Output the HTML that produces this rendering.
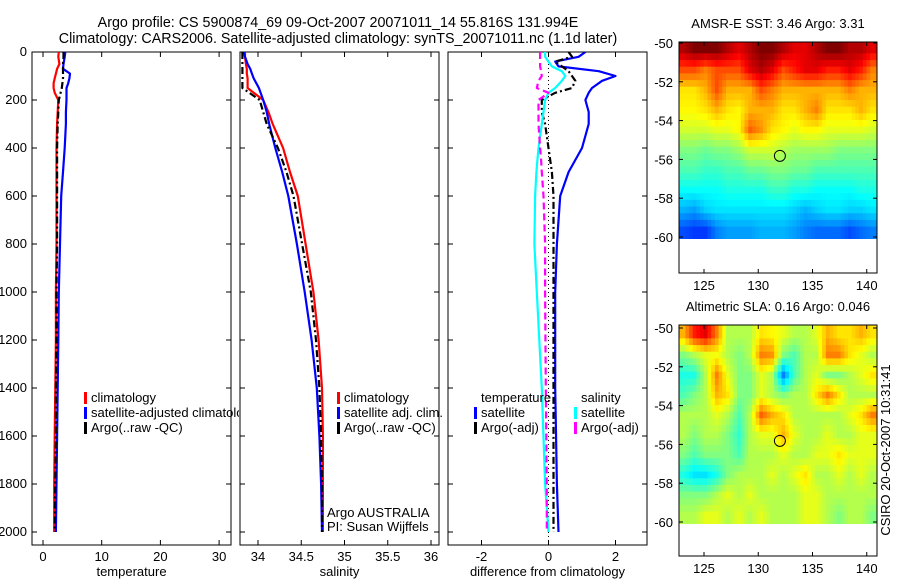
<!DOCTYPE html>
<html><head><meta charset="utf-8"><style>
html,body{margin:0;padding:0;background:#fff}
svg{display:block;font-family:"Liberation Sans",Arial,sans-serif;font-size:13px}
</style></head><body>
<svg id="fig" width="900" height="580" viewBox="0 0 900 580">
<defs>
<clipPath id="c1"><rect x="32" y="52" width="199" height="493"/></clipPath>
<clipPath id="c2"><rect x="240" y="52" width="199" height="493"/></clipPath>
<clipPath id="c3"><rect x="448" y="52" width="199" height="493"/></clipPath>
<clipPath id="leg1"><rect x="0" y="380" width="239" height="60"/></clipPath>
<clipPath id="m1"><rect x="679" y="42" width="198" height="197"/></clipPath>
<clipPath id="m2"><rect x="679" y="325" width="198" height="199"/></clipPath>
</defs>
<text x="338" y="27" text-anchor="middle" font-size="14.3">Argo profile: CS 5900874_69 09-Oct-2007 20071011_14 55.816S 131.994E</text>
<text x="338" y="43" text-anchor="middle" font-size="14.3">Climatology: CARS2006. Satellite-adjusted climatology: synTS_20071011.nc (1.1d later)</text>
<g id="g"></g>
</svg>
<script>
// ---------- data ----------
const depth = [0,20,50,70,90,110,130,150,170,200,250,300,400,500,600,800,1000,1200,1400,1600,1800,2000];
const climT = [2.7,2.6,2.8,2.4,2.2,2.0,1.8,1.8,2.0,2.6,2.5,2.4,2.3,2.3,2.3,2.3,2.2,2.2,2.1,2.0,1.9,1.9];
const satT  = [3.8,3.7,3.5,3.4,4.6,4.5,4.3,4.0,4.0,4.0,3.9,3.9,3.7,3.4,3.1,2.9,2.7,2.6,2.5,2.4,2.3,2.2];
const argoT = [3.5,3.5,3.4,3.4,3.4,3.4,3.3,3.2,3.0,2.7,2.6,2.5,2.4,2.4,2.4,2.4,2.3,2.3,2.2,2.2,2.1,2.0];
const climS = [33.85,33.85,33.86,33.87,33.87,33.88,33.88,33.88,33.95,34.06,34.12,34.17,34.29,34.37,34.46,34.55,34.64,34.70,34.74,34.75,34.75,34.75];
const satS  = [33.84,33.85,33.88,33.91,33.93,33.95,33.98,34.01,34.03,34.06,34.10,34.13,34.20,34.28,34.35,34.45,34.54,34.62,34.68,34.71,34.73,34.74];
const argoS = [33.82,33.82,33.82,33.82,33.82,33.82,33.82,33.82,33.90,34.02,34.06,34.10,34.23,34.33,34.41,34.51,34.61,34.67,34.71,34.73,34.74,34.74];
const dDepth = [0,20,40,60,80,100,120,150,170,200,250,300,400,450,500,600,800,1000,1400,1800,2000];
const dSatT  = [1.1,0.9,0.2,0.3,1.5,2.0,1.6,1.3,1.2,1.1,1.2,1.2,1.0,0.8,0.6,0.35,0.25,0.2,0.2,0.25,0.3];
const dArgoT = [0.6,0.7,0.2,0.4,0.6,0.7,0.8,0.7,0.2,-0.2,-0.2,-0.1,0.0,0.05,0.1,0.15,0.15,0.15,0.15,0.15,0.15];
const dSatS  = [-0.1,-0.1,0.0,0.1,0.4,0.5,0.4,0.2,0.0,-0.1,-0.15,-0.2,-0.3,-0.33,-0.36,-0.4,-0.42,-0.35,-0.2,-0.1,0.0];
const dArgoS = [-0.25,-0.25,-0.25,-0.25,-0.22,-0.2,-0.3,-0.35,0.0,-0.3,-0.3,-0.3,-0.25,-0.22,-0.2,-0.15,-0.1,-0.1,-0.08,-0.05,-0.05];
const tTicks = [0,10,20,30];
const sTicks = [34,34.5,35,35.5,36];
const dTicks = [-2,0,2];
const zTicks = [0,200,400,600,800,1000,1200,1400,1600,1800,2000];
const lonTicks = [125,130,135,140];
const latTicks = [-50,-52,-54,-56,-58,-60];
const sst = [
[9.5,10,10,10,9.5,9,9.5,10,10,9.5,9,9,9.5,10,10,9.5,9.5,9],
[8,8,7.5,8,8,8,9,9.5,9,8,8.5,9,9,8.5,8.5,9,8.5,7.5],
[6.5,6.5,7,8,7,7,7,8,7.5,7,7,7,7,7,7,7.5,7,7],
[6.3,6.3,6.5,7,6.5,6.3,7,7,7,6.5,6.5,7,7.5,6.5,6.5,6.5,7,6.5],
[5.8,5.8,5.8,6,6,6.3,7.8,7.3,6.5,6.3,6,6.3,6.3,6,6,6,6,5.8],
[5,5,4.8,5,5,5.3,5.8,5.8,5.8,5.5,5.3,5.3,5.3,5.3,5,5,5,5],
[4.5,4.5,4.3,4.3,4.5,4.5,4.8,4.8,5,5,4.8,4.8,4.5,4.5,4.5,4.5,4.5,4.5],
[3.8,3.8,3.8,3.8,4,4,4,4,4.3,4.3,4,4,3.8,3.8,3.8,3.8,4,4],
[3,2.8,3.3,3.5,3.5,3.5,3.5,3.5,3.5,3.5,3.3,3,3.3,3.5,3.5,3.3,3.3,3.5],
[2,1.8,1.8,2.5,2.8,2.8,2.8,3,3,3,2.8,2.5,2.3,2.3,2.3,2,2.3,2.5]];
const sla = [
[7,8.5,9,7.5,5.5,5.5,5.5,6.5,6.3,6,5.5,5.5,6,7,6.5,6.5,7,6.5],
[5,5.5,6,6.2,5.5,5,5.5,7.5,7.3,5,4.5,5.5,5.5,7.5,7.5,6.5,6,5.5],
[4,4,5.5,7.5,6,5,5,6,5.5,2.5,4.5,5.5,6,5,5,5.5,6,6.5],
[4.5,5,5.5,7,6.5,5,5,6,5.5,5,5.5,5.5,6.5,7.5,6.5,5.5,5.5,5.5],
[5.5,5.5,5.5,6,5.5,4.5,5.5,7.8,7,6.5,5.5,5.5,5.5,5.5,5.5,6,6.5,7.5],
[5.5,5,5.5,5.5,5,4.2,5.5,6,6,7,6,5.5,5.5,6,5.5,5.5,6,6],
[5,4.5,5,5,5,4.5,5.5,5.5,5.5,6,5.5,5.5,6,6,6.5,6,6,6],
[4,3.5,3.5,4,5,5.5,5.5,5.5,6,5.5,6,6.5,5.5,5.5,6,5.5,6,5.5],
[5,5,5,5.5,6,5.5,6,5.5,5.5,5.5,5.5,6,6,5.5,5.5,5.5,5.5,5.5],
[5.5,5.5,6,6,5.5,6,5.5,6,5.5,5.5,5.5,6,6,5.5,5,5.5,5.5,5]];
const argoLon = 131.994, argoLat = -55.816;

// ---------- helpers ----------
const NS="http://www.w3.org/2000/svg";
const G=document.getElementById('g');
function el(tag,attrs,parent){const e=document.createElementNS(NS,tag);for(const k in attrs)e.setAttribute(k,attrs[k]);(parent||G).appendChild(e);return e;}
const yZ = z => 52 + z*0.24;
const xT = v => 43 + v*5.87;
const xS = v => 258 + (v-34)*86.5;
const xD = v => 548.5 + v*33.5;
const mapX = lon => 704 + (lon-125)*10.85;
const latY1 = lat => 43 + (-50-lat)*19.4;
const latY2 = lat => 328 + (-50-lat)*19.4;

function panel(x0,name,clip,xs,ticks,label){
  const g=el('g',{});  
  el('rect',{x:x0,y:52,width:199,height:493,fill:'none',stroke:'#000','stroke-width':1},g);
  ticks.forEach(t=>{const x=xs(t);
    el('line',{x1:x,x2:x,y1:545,y2:540,stroke:'#000'},g);
    el('line',{x1:x,x2:x,y1:52,y2:57,stroke:'#000'},g);
    const tx=el('text',{x:x,y:561,'text-anchor':'middle'},g);tx.textContent=t;
    
    
  });
  zTicks.forEach(z=>{const y=yZ(z);
    el('line',{x1:x0,x2:x0+5,y1:y,y2:y,stroke:'#000'},g);
    el('line',{x1:x0+199,x2:x0+194,y1:y,y2:y,stroke:'#000'},g);
  });
  const l=el('text',{x:x0+99.5,y:576,'text-anchor':'middle'},g);l.textContent=label;
  
  
  return el('g',{'clip-path':'url(#'+clip+')'},g);
}
function line(g,xs,vals,deps,color,dash,name){
  const pts=vals.map((v,i)=>xs(v).toFixed(1)+','+yZ(deps[i]).toFixed(1)).join(' ');
  const p=el('polyline',{points:pts,fill:'none',stroke:color,'stroke-width':2.2,'stroke-linejoin':'round'},g);
  if(dash)p.setAttribute('stroke-dasharray',dash);
  
  
}
function legend(x,y,items,parent){
  items.forEach((it,i)=>{
    const yy=y+i*15;
    if(it.c) el('rect',{x:x,y:yy-10,width:3,height:12,fill:it.c},parent);
    const t=el('text',{x:x+7,y:yy},parent);t.textContent=it.t;
    
    
  });
}

zTicks.forEach(z=>{const t=el('text',{x:27,y:yZ(z)+4,'text-anchor':'end'});t.textContent=z;
  
  });

const p1=panel(32,'temperature-panel','c1',xT,tTicks,'temperature');
line(p1,xT,climT,depth,'#ff0000',null,'temperature-climatology-line');
line(p1,xT,satT,depth,'#0000ff',null,'temperature-satellite-line');
line(p1,xT,argoT,depth,'#000000','7,3,2,3','temperature-argo-line');
const p2=panel(240,'salinity-panel','c2',xS,sTicks,'salinity');
line(p2,xS,climS,depth,'#ff0000',null,'salinity-climatology-line');
line(p2,xS,satS,depth,'#0000ff',null,'salinity-satellite-line');
line(p2,xS,argoS,depth,'#000000','7,3,2,3','salinity-argo-line');
const p3=panel(448,'difference-panel','c3',xD,dTicks,'difference from climatology');
el('line',{x1:xD(0),x2:xD(0),y1:52,y2:545,stroke:'#000','stroke-dasharray':'1,3'},p3);
line(p3,xD,dSatT,dDepth,'#0000ff',null,'diff-temperature-satellite-line');
line(p3,xD,dArgoT,dDepth,'#000000','7,3,2,3','diff-temperature-argo-line');
line(p3,xD,dSatS,dDepth,'#00ffff',null,'diff-salinity-satellite-line');
line(p3,xD,dArgoS,dDepth,'#ff00ff','7,4','diff-salinity-argo-line');

const lg1=el('g',{'clip-path':'url(#leg1)'});
legend(84,402,[{c:'#ff0000',t:'climatology'},{c:'#0000ff',t:'satellite-adjusted climatology'},{c:'#000000',t:'Argo(..raw -QC)'}],lg1);
legend(337,402,[{c:'#ff0000',t:'climatology'},{c:'#0000ff',t:'satellite adj. clim.'},{c:'#000000',t:'Argo(..raw -QC)'}]);
legend(474,402,[{c:null,t:'temperature'},{c:'#0000ff',t:'satellite'},{c:'#000000',t:'Argo(-adj)'}]);
legend(574,402,[{c:null,t:'salinity'},{c:'#00ffff',t:'satellite'},{c:'#ff00ff',t:'Argo(-adj)'}]);
[['Argo AUSTRALIA',517],['PI: Susan Wijffels',531]].forEach(a=>{const t=el('text',{x:327,y:a[1]});t.textContent=a[0];
  
  });

// ---------- maps ----------
function jet(v){const t=Math.max(0,Math.min(1,v/10));
  const f=x=>Math.round(255*Math.max(0,Math.min(1,1.5-Math.abs(4*t-x))));
  return 'rgb('+f(3)+','+f(2)+','+f(1)+')';}
function sample(grid,fj,fi){ // bilinear lookup at fractional row/col (cell centres)
  const nr=grid.length,nc=grid[0].length;
  const j=Math.max(0,Math.min(nr-1,fj-0.5)), i=Math.max(0,Math.min(nc-1,fi-0.5));
  const j0=Math.floor(j),i0=Math.floor(i),j1=Math.min(nr-1,j0+1),i1=Math.min(nc-1,i0+1);
  const a=j-j0,b=i-i0;
  return grid[j0][i0]*(1-a)*(1-b)+grid[j0][i1]*(1-a)*b+grid[j1][i0]*a*(1-b)+grid[j1][i1]*a*b;
}
function map(grid,yTop,latY,clip,name,title){
  const g=el('g',{});  
  const t=el('text',{x:778,y:yTop-14,'text-anchor':'middle'},g);t.textContent=title;
  
  
  const cg=el('g',{'clip-path':'url(#'+clip+')'},g);
  const nr=grid.length,nc=grid[0].length,S=3;
  const lon0=122.6,lon1=141.0,lat0=-49.85,lat1=-60.15;
  for(let j=0;j<nr*S;j++)for(let i=0;i<nc*S;i++){
    const v=sample(grid,(j+0.5)/S,(i+0.5)/S);
    const xa=mapX(lon0+(lon1-lon0)*i/(nc*S)), xb=mapX(lon0+(lon1-lon0)*(i+1)/(nc*S));
    const ya=latY(lat0+(lat1-lat0)*j/(nr*S)), yb=latY(lat0+(lat1-lat0)*(j+1)/(nr*S));
    const r=el('rect',{x:xa.toFixed(1),y:ya.toFixed(1),width:(xb-xa+0.6).toFixed(1),height:(yb-ya+0.6).toFixed(1),fill:jet(v)},cg);
    
    
  }
  const c=el('circle',{cx:mapX(argoLon),cy:latY(argoLat),r:5.5,fill:'none',stroke:'#000','stroke-width':1},g);
  
  
  el('rect',{x:679,y:yTop,width:198,height:231,fill:'none',stroke:'#000'},g);
  lonTicks.forEach(l=>{const x=mapX(l);
    el('line',{x1:x,x2:x,y1:yTop,y2:yTop+4,stroke:'#000'},g);
    el('line',{x1:x,x2:x,y1:yTop+231,y2:yTop+227,stroke:'#000'},g);
    const tx=el('text',{x:x,y:yTop+248,'text-anchor':'middle'},g);tx.textContent=l;
    
    });
  latTicks.forEach(l=>{const y=latY(l);
    el('line',{x1:679,x2:683,y1:y,y2:y,stroke:'#000'},g);
    el('line',{x1:877,x2:873,y1:y,y2:y,stroke:'#000'},g);
    const tx=el('text',{x:673,y:y+5,'text-anchor':'end'},g);tx.textContent=l;
    
    });
}
map(sst,42,latY1,'m1','sst-map','AMSR-E SST: 3.46 Argo: 3.31');
map(sla,325,latY2,'m2','sla-map','Altimetric SLA: 0.16 Argo: 0.046');
const cs=el('text',{x:0,y:0,'text-anchor':'middle',transform:'translate(890,450) rotate(-90)'});
cs.textContent='CSIRO 20-Oct-2007 10:31:41';


</script>
</body></html>
